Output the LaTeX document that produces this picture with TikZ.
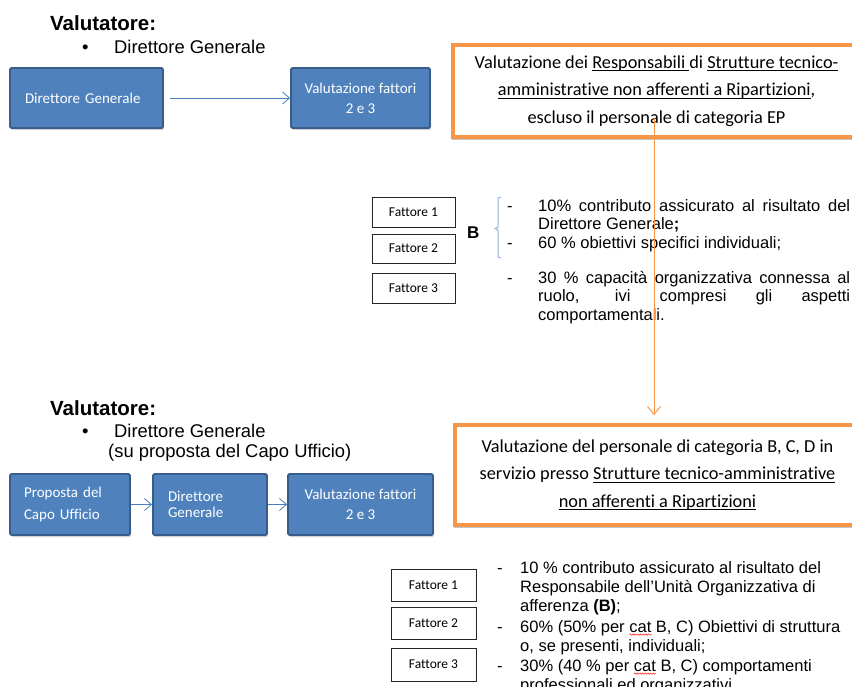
\documentclass[tikz,border=0pt]{standalone}
\usepackage{fontspec}
\setmainfont{Liberation Sans}
\newfontfamily\calfont[Ligatures=NoCommon]{Carlito}
\usetikzlibrary{arrows.meta,shadows,decorations.pathmorphing}
\definecolor{bfill}{HTML}{4F81BD}
\definecolor{bborder}{HTML}{385D8A}
\definecolor{barrowc}{HTML}{4A7EBB}
\definecolor{oline}{HTML}{F79646}
\definecolor{bracec}{HTML}{95B3D7}
\newlength\spellw
\newlength\myulw
\newcommand\myul[1]{\settowidth{\myulw}{#1}\rlap{\rule[-2.8pt]{\myulw}{0.7pt}}#1}
\newcommand\spellerr[1]{\settowidth{\spellw}{#1}\rlap{\tikz[x=1pt,y=1pt,baseline=0pt]\draw[red,line width=.45pt,decorate,decoration={snake,amplitude=.7pt,segment length=2.6pt}] (0pt,-2.6pt)--(\spellw,-2.6pt);}#1}
\begin{document}
\begin{tikzpicture}[x=1pt,y=-1pt,
  bluebox/.style={draw=bborder,line width=1.8pt,fill=bfill,rounded corners=1.5pt,text=white,
    inner sep=0pt,drop shadow={shadow xshift=1pt,shadow yshift=-2pt,opacity=.35}},
  obox/.style={draw=oline,line width=3.5pt,fill=white,align=center,inner sep=0pt,
    drop shadow={shadow xshift=-1.5pt,shadow yshift=-2.5pt,fill=gray,opacity=.45},
    font=\calfont\fontsize{18.3}{27.5}\selectfont},
  fbox/.style={draw=black!85,line width=.8pt,fill=white,inner sep=0pt,
    font=\calfont\fontsize{13.5}{15}\selectfont},
  hdr/.style={anchor=base west,inner sep=0pt,font=\fontsize{18.4}{21}\selectfont},
  vhdr/.style={anchor=base west,inner sep=0pt,font=\bfseries\fontsize{20.5}{23}\selectfont},
  body/.style={anchor=base west,inner sep=0pt,font=\fontsize{16.5}{19}\selectfont},
  barrow/.style={draw=barrowc,line width=.8pt,-{Straight Barb[length=7pt,width=12pt]}},
  oarrow/.style={draw=oline,line width=1pt,-{Straight Barb[length=8pt,width=13pt]}}]
\useasboundingbox (0,0) rectangle (852,686);

% ---------- top section ----------
\node[vhdr] (v1) at (50,30) {Valutatore:};
\node[hdr] (bul1) at (82,53) {\textbullet};
\node[hdr] (dg1) at (114,53) {Direttore Generale};

\node[bluebox,minimum width=153pt,minimum height=60pt,text width=123pt,align=left,font=\calfont\fontsize{15}{20}\selectfont] (b1) at (86.5,98) {Direttore Generale};
\node[bluebox,minimum width=139pt,minimum height=60pt,align=center,font=\calfont\fontsize{15}{20}\selectfont] (b2) at (360.5,98) {Valutazione fattori\\2 e 3};
\draw[barrow,shorten <=6pt] (b1) -- (b2);

\node[obox,minimum width=407pt,minimum height=92pt] (o1) at (656.5,91)
 {Valutazione dei \myul{Responsabili\ }di \myul{Strutture tecnico-}\\
  \myul{amministrative non afferenti a Ripartizioni},\\
  escluso il personale di categoria EP};

\node[fbox,minimum width=83pt,minimum height=30pt] (f1) at (413.5,212) {Fattore 1};
\node[fbox,minimum width=83pt,minimum height=29pt] (f2) at (413.5,248.5) {Fattore 2};
\node[fbox,minimum width=83pt,minimum height=30pt] (f3) at (413.5,288) {Fattore 3};

\node[anchor=base west,inner sep=0pt,font=\bfseries\fontsize{17}{20}\selectfont] (bB) at (467,238) {B};
\draw[bracec,line width=1pt] (501,197) -- (498,198) -- (498,227) -- (495,228.5) -- (498,230) -- (498,257) -- (501,258);

\node[body] (d1) at (507,211) {-};
\node[body] (d2) at (507,248) {-};
\node[body] (d3) at (507,283) {-};
\node[body] (t1) at (538,211) {\makebox[312pt][s]{10\% contributo assicurato al risultato del}};
\node[body] (t2) at (538,229) {Direttore Generale\textbf{;}};
\node[body] (t3) at (538,248) {60 \% obiettivi specifici individuali;};
\node[body] (t4) at (538,283) {\makebox[312pt][s]{30 \% capacità organizzativa connessa al}};
\node[body] (t5) at (538,301) {\makebox[312pt][s]{ruolo, ivi compresi gli aspetti}};
\node[body] (t6) at (538,320) {comportamentali.};

% ---------- bottom section ----------
\node[vhdr] (v2) at (50,415) {Valutatore:};
\node[hdr] (bul2) at (82,437) {\textbullet};
\node[hdr] (dg2) at (114,437) {Direttore Generale};
\node[hdr] (sp2) at (108,457) {(su proposta del Capo Ufficio)};

\node[bluebox,minimum width=120pt,minimum height=61pt,text width=92pt,align=left,font=\calfont\fontsize{15}{22}\selectfont] (c1) at (70,504.5) {Proposta del\\Capo Ufficio};
\node[bluebox,minimum width=114pt,minimum height=61pt,text width=84pt,align=left,font=\calfont\fontsize{15}{16}\selectfont] (c2) at (210,504.5) {Direttore\\Generale};
\node[bluebox,minimum width=145pt,minimum height=61pt,align=center,font=\calfont\fontsize{15}{20}\selectfont] (c3) at (360.5,504.5) {Valutazione fattori\\2 e 3};
\draw[barrow] (c1) -- (c2);
\draw[barrow] (c2) -- (c3);

\node[obox,minimum width=405pt,minimum height=100pt] (o2) at (657.5,475)
 {Valutazione del personale di categoria B, C, D in\\
  servizio presso \myul{Strutture tecnico-amministrative}\\
  \myul{non afferenti a Ripartizioni}};

\coordinate (ostart) at (654,118);
\draw[oarrow,shorten >=8pt] (ostart) -- (ostart |- o2.north);

\node[fbox,minimum width=85pt,minimum height=32pt] (g1) at (433.5,585) {Fattore 1};
\node[fbox,minimum width=85pt,minimum height=32pt] (g2) at (433.5,623) {Fattore 2};
\node[fbox,minimum width=85pt,minimum height=33pt] (g3) at (433.5,664.5) {Fattore 3};

\node[body] (e1) at (497,573) {-};
\node[body] (e2) at (497,632) {-};
\node[body] (e3) at (497,671) {-};
\node[body] (s1) at (520,573) {10 \% contributo assicurato al risultato del};
\node[body] (s2) at (520,592) {Responsabile dell’Unità Organizzativa di};
\node[body] (s3) at (520,611) {afferenza \textbf{(B)};};
\node[body] (s4) at (520,632) {60\% (50\% per \spellerr{cat} B, C) Obiettivi di struttura};
\node[body] (s5) at (520,651) {o, se presenti, individuali;};
\node[body] (s6) at (520,671) {30\% (40 \% per \spellerr{cat} B, C) comportamenti};
\node[body] (s7) at (520,690) {professionali ed organizzativi.};
\end{tikzpicture}
\end{document}
